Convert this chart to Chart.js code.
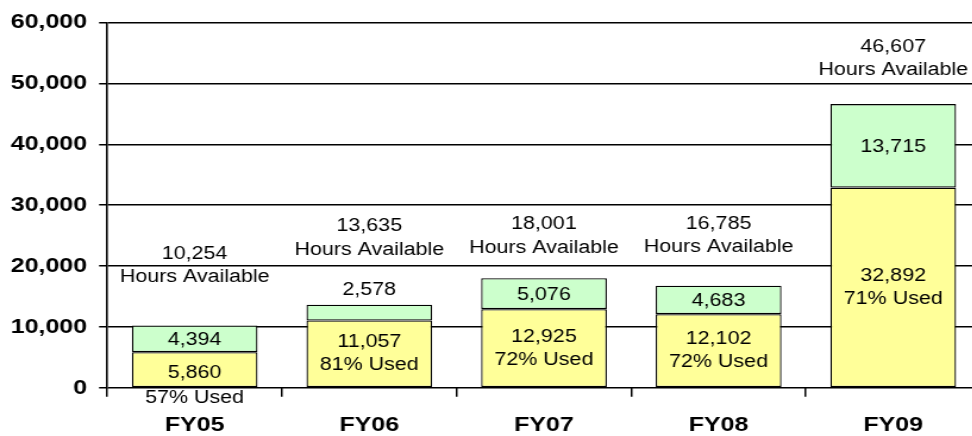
<!DOCTYPE html>
<html>
<head>
<meta charset="utf-8">
<title>Hours Available</title>
<script src="https://cdn.jsdelivr.net/npm/chart.js@4/dist/chart.umd.min.js"></script>
<style>
  html, body { margin: 0; padding: 0; background: #fff; overflow: hidden; }
  /* the chart is laid out narrow and stretched sideways */
  #wrap { width: 830px; height: 436px; transform: scaleX(1.19); transform-origin: 0 0; }
</style>
</head>
<body>
<div id="wrap"><canvas id="hours"></canvas></div>
<script>
const years = ["FY05", "FY06", "FY07", "FY08", "FY09"];
const hoursUsed = [5860, 11057, 12925, 12102, 32892];
const hoursUnused = [4394, 2578, 5076, 4683, 13715];
const hoursAvailable = [10254, 13635, 18001, 16785, 46607];
const percentUsed = [57, 81, 72, 72, 71];
const yMax = 60000;
const yStep = 10000;

const FONT = "'Liberation Sans', Arial, sans-serif";

function fmt(n) {
  return n.toLocaleString("en-US");
}

// value labels drawn on / around each stacked bar
const barLabels = {
  id: "barLabels",
  afterDatasetsDraw(chart, args, opts) {
    const ctx = chart.ctx;
    const used = chart.getDatasetMeta(0).data;
    const unused = chart.getDatasetMeta(1).data;
    const lh = opts.lineHeight;
    ctx.save();
    ctx.fillStyle = "#000";
    ctx.font = opts.size + "px " + FONT;
    ctx.textAlign = "center";
    ctx.textBaseline = "middle";
    years.forEach((yr, i) => {
      const u = used[i];
      const g = unused[i];
      const x = u.x;

      // used hours + percent
      const uh = u.base - u.y;
      const um = u.y + uh / 2;
      if (uh > 50) {
        ctx.fillText(fmt(hoursUsed[i]), x, um - lh / 2);
        ctx.fillText(percentUsed[i] + "% Used", x, um + lh / 2);
      } else {
        ctx.fillText(fmt(hoursUsed[i]), x, um + 3);
        ctx.fillText(percentUsed[i] + "% Used", x, u.base + 11);
      }

      // unused hours, pushed above the bar when the segment is thin
      const gh = g.base - g.y;
      if (gh > 24) {
        ctx.fillText(fmt(hoursUnused[i]), x, g.y + gh / 2 + 1);
      } else {
        ctx.fillText(fmt(hoursUnused[i]), x, g.y - 15);
      }

      // total above the bar
      const lift = opts.lift[i];
      ctx.fillText("Hours Available", x, g.y - lift);
      ctx.fillText(fmt(hoursAvailable[i]), x, g.y - lift - 23.5);
    });
    ctx.restore();
  },
};

const ctx = document.getElementById("hours").getContext("2d");
new Chart(ctx, {
  type: "bar",
  data: {
    labels: years,
    datasets: [
      {
        label: "Used",
        data: hoursUsed,
        backgroundColor: "#FFFF99",
        borderColor: "#000",
        borderWidth: 1.3,
        borderSkipped: false,
      },
      {
        label: "Unused",
        data: hoursUnused,
        backgroundColor: "#CCFFCC",
        borderColor: "#000",
        borderWidth: 1.3,
        borderSkipped: false,
      },
    ],
  },
  options: {
    responsive: true,
    maintainAspectRatio: false,
    animation: false,
    datasets: {
      bar: {
        categoryPercentage: 1,
        barPercentage: 0.72,
      },
    },
    layout: {
      padding: { left: -1, right: 6, top: 13, bottom: -18 },
    },
    plugins: {
      legend: { display: false },
      tooltip: { enabled: false },
      barLabels: {
        size: 18,
        lineHeight: 23,
        lift: [48, 55, 30.5, 38.5, 34],
      },
    },
    scales: {
      x: {
        stacked: true,
        grid: {
          drawOnChartArea: false,
          color: "#000",
          lineWidth: 1.5,
          tickLength: 9,
        },
        border: { display: false },
        ticks: {
          color: "#000",
          padding: 16,
          font: { family: FONT, size: 21, weight: "bold" },
        },
      },
      y: {
        stacked: true,
        min: 0,
        max: yMax,
        grid: {
          color: "#000",
          lineWidth: 1.5,
          tickLength: 7,
        },
        border: { color: "#000", width: 1.6 },
        ticks: {
          stepSize: yStep,
          color: "#000",
          padding: 10,
          font: { family: FONT, size: 21, weight: "bold" },
          callback: (v) => fmt(v),
        },
      },
    },
  },
  plugins: [barLabels],
});
</script>
</body>
</html>
